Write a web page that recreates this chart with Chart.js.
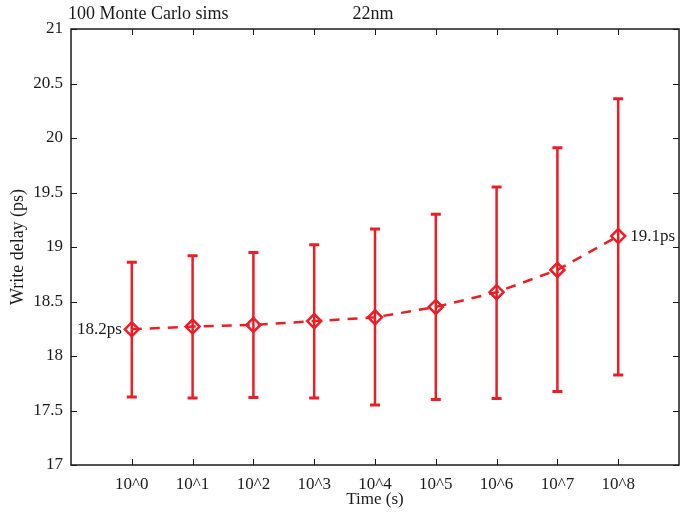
<!DOCTYPE html>
<html>
<head>
<meta charset="utf-8">
<script src="https://cdn.jsdelivr.net/npm/chart.js@4.4.1/dist/chart.umd.min.js"></script>
<style>
  html, body { margin: 0; padding: 0; background: #fff; }
  #wrap { width: 694px; height: 513px; }
</style>
</head>
<body>
<div id="wrap"><canvas id="delayChart"></canvas></div>
<script>
// data
const timeLabels = ['10^0', '10^1', '10^2', '10^3', '10^4', '10^5', '10^6', '10^7', '10^8'];
const timePos = [0, 1, 2, 3, 4, 5, 6, 7, 8];
const meanDelay = [18.245, 18.27, 18.285, 18.32, 18.355, 18.45, 18.585, 18.79, 19.10];
const upperDelay = [18.86, 18.92, 18.95, 19.02, 19.165, 19.30, 19.55, 19.91, 20.36];
const lowerDelay = [17.625, 17.615, 17.62, 17.615, 17.55, 17.60, 17.61, 17.675, 17.825];
const yTicks = [17, 17.5, 18, 18.5, 19, 19.5, 20, 20.5, 21];
const pointNotes = [{ index: 0, text: '18.2ps', side: 'left' }, { index: 8, text: '19.1ps', side: 'right' }];

const RED = '#ee1c25';
const INK = '#1a1a1a';
const FONT = '"Liberation Serif", "Times New Roman", serif';

// error bars, inward ticks, box and free text
const figurePlugin = {
    id: 'figure',
    beforeDatasetsDraw(chart) {
        const { ctx, scales: { x, y } } = chart;
        ctx.save();
        ctx.strokeStyle = RED;
        timePos.forEach((t, i) => {
            const px = x.getPixelForValue(t);
            const top = y.getPixelForValue(upperDelay[i]);
            const bot = y.getPixelForValue(lowerDelay[i]);
            ctx.lineWidth = 2.5;
            ctx.beginPath();
            ctx.moveTo(px, top);
            ctx.lineTo(px, bot);
            ctx.stroke();
            ctx.lineWidth = 3;
            ctx.beginPath();
            ctx.moveTo(px - 5, top);
            ctx.lineTo(px + 5, top);
            ctx.moveTo(px - 5, bot);
            ctx.lineTo(px + 5, bot);
            ctx.stroke();
        });
        ctx.restore();
    },
    afterDraw(chart) {
        const { ctx, chartArea: a, scales: { x, y } } = chart;
        ctx.save();
        ctx.strokeStyle = INK;
        ctx.lineWidth = 1.5;
        ctx.strokeRect(a.left, a.top, a.right - a.left, a.bottom - a.top);
        ctx.lineWidth = 1;
        ctx.beginPath();
        timePos.forEach(t => {
            const px = Math.round(x.getPixelForValue(t)) + 0.5;
            ctx.moveTo(px, a.bottom);
            ctx.lineTo(px, a.bottom - 6);
            ctx.moveTo(px, a.top);
            ctx.lineTo(px, a.top + 6);
        });
        yTicks.forEach(v => {
            const py = Math.round(y.getPixelForValue(v)) + 0.5;
            ctx.moveTo(a.left, py);
            ctx.lineTo(a.left + 6, py);
            ctx.moveTo(a.right, py);
            ctx.lineTo(a.right - 6, py);
        });
        ctx.stroke();

        ctx.fillStyle = INK;
        ctx.font = '18px ' + FONT;
        ctx.textBaseline = 'middle';
        ctx.textAlign = 'left';
        ctx.fillText('100 Monte Carlo sims', 68, 14);
        ctx.textAlign = 'center';
        ctx.fillText('22nm', 373, 14);

        ctx.font = '17px ' + FONT;
        pointNotes.forEach(n => {
            const px = x.getPixelForValue(timePos[n.index]);
            const py = y.getPixelForValue(meanDelay[n.index]);
            ctx.textAlign = n.side === 'left' ? 'right' : 'left';
            ctx.fillText(n.text, n.side === 'left' ? px - 10 : px + 12, py);
        });
        ctx.restore();
    }
};

new Chart(document.getElementById('delayChart'), {
    type: 'line',
    data: {
        datasets: [{
            label: 'Write delay',
            data: timePos.map((t, i) => ({ x: t, y: meanDelay[i] })),
            borderColor: RED,
            backgroundColor: 'rgba(0,0,0,0)',
            borderWidth: 2.5,
            borderDash: [10, 8],
            pointStyle: 'rectRot',
            pointRadius: 7,
            pointBorderWidth: 2.5,
            pointBorderColor: RED,
            pointBackgroundColor: 'rgba(0,0,0,0)',
            tension: 0
        }]
    },
    options: {
        responsive: true,
        maintainAspectRatio: false,
        animation: false,
        events: [],
        layout: { padding: { top: 29, right: 15, left: 0, bottom: 0 } },
        plugins: { legend: { display: false }, tooltip: { enabled: false } },
        scales: {
            x: {
                type: 'linear',
                min: -1,
                max: 9,
                afterFit(scale) { scale.height = 48; },
                afterBuildTicks(scale) { scale.ticks = timePos.map(v => ({ value: v })); },
                grid: { display: false, drawTicks: false },
                border: { display: false },
                ticks: {
                    padding: 9,
                    color: INK,
                    font: { family: FONT, size: 17 },
                    maxRotation: 0,
                    autoSkip: false,
                    callback: v => timeLabels[timePos.indexOf(v)]
                },
                title: {
                    display: true,
                    text: 'Time (s)',
                    color: INK,
                    font: { family: FONT, size: 17 },
                    padding: { top: 0, bottom: 3 }
                }
            },
            y: {
                min: 17,
                max: 21,
                afterFit(scale) { scale.width = 71; },
                afterBuildTicks(scale) { scale.ticks = yTicks.map(v => ({ value: v })); },
                grid: { display: false, drawTicks: false },
                border: { display: false },
                ticks: {
                    padding: 8,
                    color: INK,
                    font: { family: FONT, size: 17 },
                    callback: v => String(v)
                },
                title: {
                    display: true,
                    text: 'Write delay (ps)',
                    color: INK,
                    font: { family: FONT, size: 18 },
                    padding: { top: 7, bottom: 0 }
                }
            }
        }
    },
    plugins: [figurePlugin]
});
</script>
</body>
</html>
